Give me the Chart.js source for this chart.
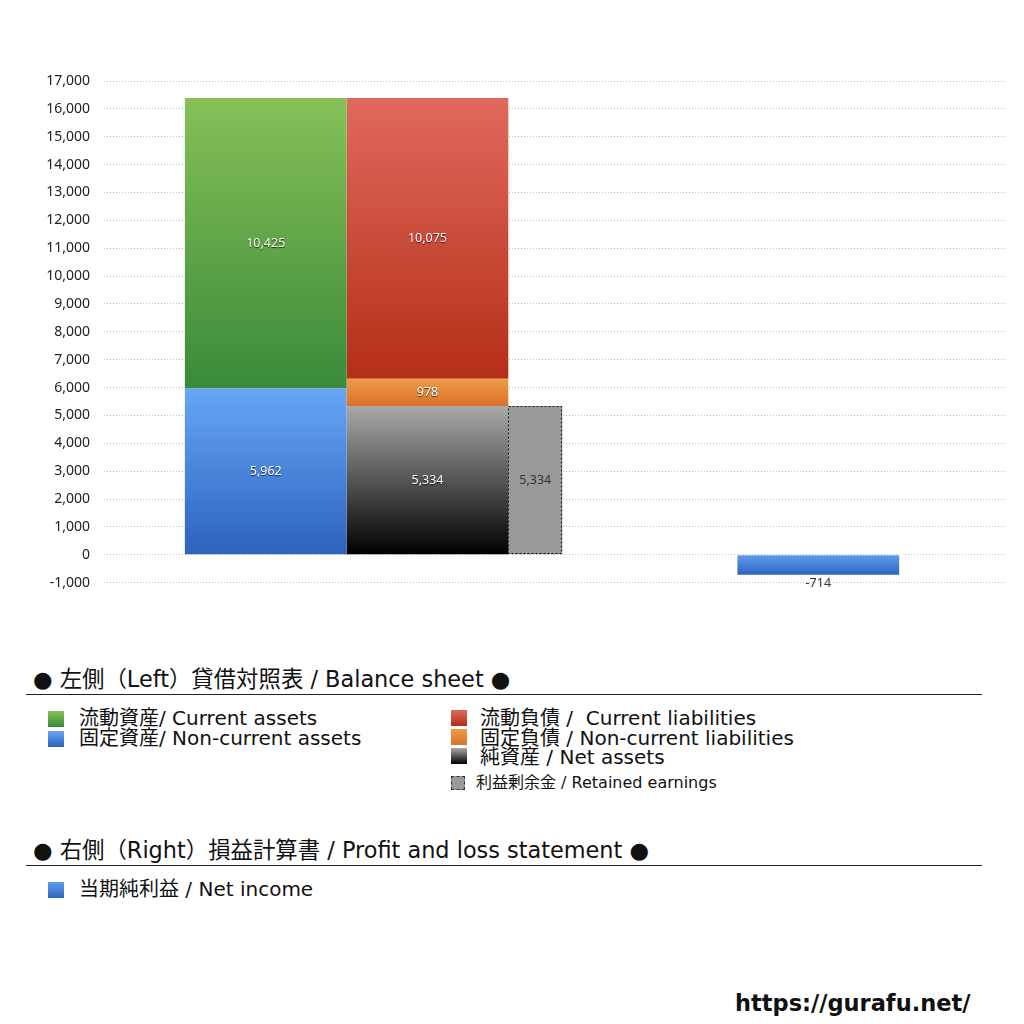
<!DOCTYPE html>
<html>
<head>
<meta charset="utf-8">
<script src="https://cdn.jsdelivr.net/npm/chart.js@4"></script>
<style>
  body { margin: 0; background: #fff; font-family: "DejaVu Sans", "Noto Sans CJK JP", sans-serif; color: #111; }
  #wrap { position: absolute; left: 0; top: 0; width: 1024px; height: 605px; }
  .title { position: absolute; left: 33px; font-size: 22.4px; line-height: 24px; white-space: nowrap; }
  .rule { position: absolute; left: 26px; width: 956px; height: 1px; background: #222; }
  .item { position: absolute; font-size: 20px; line-height: 20px; white-space: nowrap; }
  .sw { position: absolute; width: 16px; height: 16px; }
  .small { font-size: 16px; }
  #site { position: absolute; left: 735px; top: 990px; font-family: "DejaVu Sans", sans-serif; font-weight: bold; font-size: 22.5px; }
</style>
</head>
<body>
<div id="wrap"><canvas id="bs"></canvas></div>

<div class="title" style="top:667px">● 左側（Left）貸借対照表 / Balance sheet ●</div>
<div class="rule" style="top:694px"></div>

<div class="sw" style="left:48px;top:711px;background:linear-gradient(#86c057,#3a8a3a)"></div>
<div class="item" style="left:79px;top:708px">流動資産/ Current assets</div>
<div class="sw" style="left:48px;top:731px;background:linear-gradient(#66a6f6,#2d62bd)"></div>
<div class="item" style="left:79px;top:728px">固定資産/ Non-current assets</div>

<div class="sw" style="left:451px;top:710px;background:linear-gradient(#e0695d,#b52e17)"></div>
<div class="item" style="left:480px;top:708px">流動負債 /&nbsp; Current liabilities</div>
<div class="sw" style="left:451px;top:729px;background:linear-gradient(#ef9c48,#d9702a)"></div>
<div class="item" style="left:480px;top:728px">固定負債 / Non-current liabilities</div>
<div class="sw" style="left:451px;top:748px;background:linear-gradient(#a9a9a9,#000)"></div>
<div class="item" style="left:480px;top:747px">純資産 / Net assets</div>
<div class="sw" style="left:451px;top:776px;width:12px;height:12px;background:#999;border:1px dashed #333"></div>
<div class="item small" style="left:476px;top:773px">利益剰余金 / Retained earnings</div>

<div class="title" style="top:838px">● 右側（Right）損益計算書 / Profit and loss statement ●</div>
<div class="rule" style="top:865px"></div>
<div class="sw" style="left:48px;top:882px;background:linear-gradient(#5f9ded,#2e65be)"></div>
<div class="item" style="left:79px;top:879px">当期純利益 / Net income</div>

<div id="site">https://gurafu.net/</div>

<script>
// balance sheet + P/L values
var categories = ['固定資産', '流動資産', '純資産', '固定負債', '流動負債', '利益剰余金', '当期純利益'];
var values = [5962, 10425, 5334, 978, 10075, 5334, -714];
var yTicks = { min: -1000, max: 17000, step: 1000 };

// where each bar sits on the hidden slot axis, and how many slots wide
var SLOTS = 68;
var barSlot = [12, 12, 24, 24, 24, 32, 53];
var barSpan = [12, 12, 12, 12, 12, 4, 12];

// look
var gradTop = ['#66a6f6', '#86c057', '#a9a9a9', '#ef9c48', '#e0695d', '#999999', '#5f9ded'];
var gradBottom = ['#2d62bd', '#3a8a3a', '#000000', '#d9702a', '#b52e17', '#999999', '#2e65be'];
var labelDark = [false, false, false, false, false, true, true];
var dashedBar = 5;

var slotLabels = [];
for (var s = 0; s < SLOTS; s++) slotLabels.push('s' + s);

function stackBase(i){
  var b = 0;
  for (var j = 0; j < i; j++) {
    if (barSlot[j] === barSlot[i] && Math.sign(values[j]) === Math.sign(values[i])) b += values[j];
  }
  return b;
}

function fmt(v){ return v.toLocaleString('en-US'); }

var datasets = categories.map(function(name, i){
  return {
    label: name,
    data: [{ x: 's' + barSlot[i], y: values[i] }],
    categoryPercentage: 1,
    barPercentage: barSpan[i],
    borderWidth: 0,
    backgroundColor: function(c){
      var chart = c.chart, y = chart.scales.y;
      if (!chart.chartArea || !y) return gradTop[i];
      var b = stackBase(i);
      var p1 = y.getPixelForValue(b + values[i]), p0 = y.getPixelForValue(b);
      var g = chart.ctx.createLinearGradient(0, Math.min(p0, p1), 0, Math.max(p0, p1));
      g.addColorStop(0, gradTop[i]);
      g.addColorStop(1, gradBottom[i]);
      return g;
    }
  };
});

var barLabels = {
  id: 'barLabels',
  afterDatasetsDraw: function(chart){
    var ctx = chart.ctx;
    ctx.save();
    chart.data.datasets.forEach(function(ds, i){
      var meta = chart.getDatasetMeta(i);
      meta.data.forEach(function(el){
        var top = Math.min(el.y, el.base), bottom = Math.max(el.y, el.base);
        if (i === dashedBar) {
          ctx.save();
          ctx.strokeStyle = '#111';
          ctx.lineWidth = 1;
          ctx.setLineDash([2, 2]);
          ctx.strokeRect(Math.round(el.x - el.width / 2) + 0.5, Math.round(top) + 0.5, Math.round(el.width) - 1, Math.round(bottom - top) - 1);
          ctx.restore();
        }
        var ty = values[i] < 0 ? bottom + 9 : (top + bottom) / 2;
        ctx.font = '12.5px "Noto Sans", sans-serif';
        ctx.textAlign = 'center';
        ctx.textBaseline = 'middle';
        if (labelDark[i]) {
          ctx.shadowColor = 'transparent';
          ctx.fillStyle = '#333';
        } else {
          ctx.shadowColor = 'rgba(0,0,0,0.7)';
          ctx.shadowOffsetX = 0;
          ctx.shadowOffsetY = 1;
          ctx.shadowBlur = 1;
          ctx.fillStyle = '#fff';
        }
        ctx.fillText(fmt(values[i]), el.x, ty);
        ctx.shadowColor = 'transparent';
      });
    });
    ctx.restore();
  }
};

new Chart(document.getElementById('bs'), {
  type: 'bar',
  data: { labels: slotLabels, datasets: datasets },
  plugins: [barLabels],
  options: {
    responsive: true,
    maintainAspectRatio: false,
    animation: false,
    layout: { padding: { top: 81, bottom: 13, left: 0, right: 17 } },
    plugins: { legend: { display: false }, tooltip: { enabled: false } },
    scales: {
      x: {
        display: false,
        stacked: true,
        offset: false,
        ticks: { autoSkip: false }
      },
      y: {
        stacked: true,
        min: yTicks.min,
        max: yTicks.max,
        afterFit: function(scale){ scale.width = 104; },
        border: { display: false, dash: [1, 2] },
        grid: { color: '#c4c4c4', lineWidth: 1, drawTicks: false },
        ticks: {
          stepSize: yTicks.step,
          padding: 14,
          color: '#222',
          font: { family: '"Noto Sans", sans-serif', size: 14 },
          callback: function(v){ return fmt(v); }
        }
      }
    }
  }
});
</script>
</body>
</html>
